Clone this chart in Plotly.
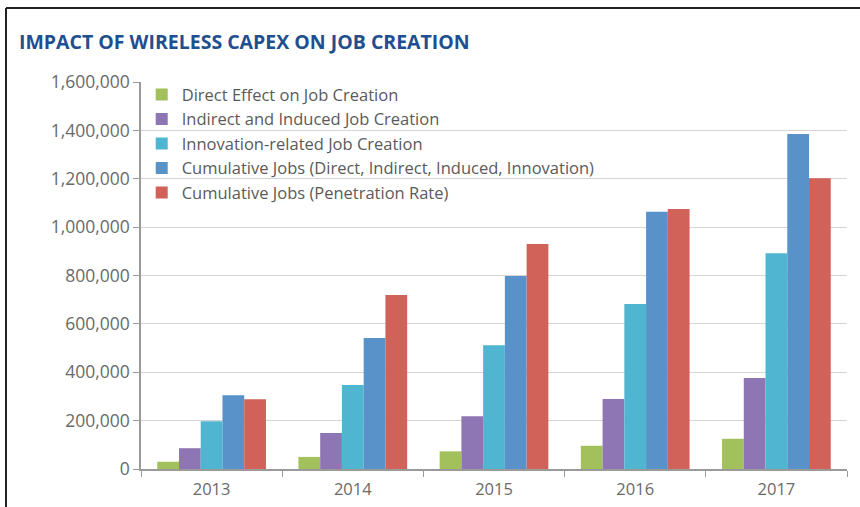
import plotly.graph_objects as go

years = ["2013", "2014", "2015", "2016", "2017"]

series_names = [
    "Direct Effect on Job Creation",
    "Indirect and Induced Job Creation",
    "Innovation-related Job Creation",
    "Cumulative Jobs (Direct, Indirect, Induced, Innovation)",
    "Cumulative Jobs (Penetration Rate)",
]

direct = [30000, 50000, 73000, 96000, 125000]
indirect_induced = [86000, 149000, 218000, 289000, 376000]
innovation = [197000, 347000, 512000, 682000, 892000]
cumulative_all = [305000, 542000, 798000, 1064000, 1385000]
cumulative_penetration = [288000, 719000, 930000, 1075000, 1202000]

series_values = [direct, indirect_induced, innovation, cumulative_all, cumulative_penetration]
colors = ["#a2c15d", "#8e76b4", "#4fb5d1", "#5892c8", "#d0625a"]

y_ticks = [0, 200000, 400000, 600000, 800000, 1000000, 1200000, 1400000, 1600000]

fig = go.Figure()
for name, vals, col in zip(series_names, series_values, colors):
    fig.add_trace(go.Bar(name=name, x=years, y=vals, marker=dict(color=col, line=dict(width=0))))

fig.update_layout(
    width=860,
    height=507,
    paper_bgcolor="white",
    plot_bgcolor="white",
    barmode="group",
    bargap=0.23,
    bargroupgap=0,
    margin=dict(l=141, r=13, t=82, b=38, autoexpand=False),
    font=dict(family="Open Sans", color="#6a6a6a"),
    title=dict(
        text="<b>IMPACT OF WIRELESS CAPEX ON JOB CREATION</b>",
        x=19 / 860, xanchor="left", xref="container",
        y=1 - 42 / 507, yanchor="middle", yref="container",
        font=dict(family="Open Sans", size=19.5, color="#1f4f8f"),
    ),
    legend=dict(
        x=0.001, y=1.012, xanchor="left", yanchor="top",
        bgcolor="rgba(0,0,0,0)",
        font=dict(family="Open Sans", size=16.5, color="#5a5a5a"),
        tracegroupgap=0, itemwidth=30,
    ),
    showlegend=True,
)

fig.update_xaxes(
    automargin=False,
    showline=True, linecolor="#9a9a9a", linewidth=1.5,
    ticks="outside", tickson="boundaries", ticklen=6, tickcolor="#9a9a9a",
    tickfont=dict(family="Open Sans", size=16.5, color="#6a6a6a"),
    ticklabelstandoff=4,
    showgrid=False,
)
fig.update_yaxes(
    automargin=False,
    range=[0, 1600000],
    tickvals=y_ticks,
    tickformat=",d",
    showline=True, linecolor="#9a9a9a", linewidth=1.5,
    ticks="outside", ticklen=6, tickcolor="#9a9a9a",
    tickfont=dict(family="Open Sans", size=17.5, color="#6a6a6a"),
    showgrid=True, gridcolor="#d4d4d4", gridwidth=1,
    zeroline=False,
)

# frame edges along the top and left of the panel
fig.add_shape(type="line", xref="paper", yref="paper", x0=-141 / 706 + 6 / 706, x1=1 + 13 / 706,
              y0=1 + 74 / 387, y1=1 + 74 / 387, line=dict(color="#222", width=2))
fig.add_shape(type="line", xref="paper", yref="paper", x0=-135 / 706, x1=-135 / 706,
              y0=1 + 74 / 387, y1=-38 / 387, line=dict(color="#222", width=2))

fig.write_html("out.html")
